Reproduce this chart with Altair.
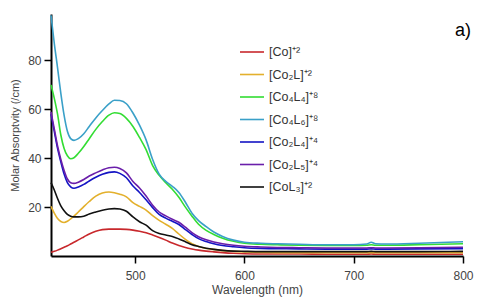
import altair as alt
import pandas as pd

FONT = "Liberation Sans"

series_names = ["[Co]⁺²", "[Co₂L]⁺²", "[Co₄L₄]⁺⁸", "[Co₄L₆]⁺⁸", "[Co₂L₄]⁺⁴", "[Co₂L₅]⁺⁴", "[CoL₃]⁺²"]
series_colors = ["#c8282c", "#e3b02c", "#33dd33", "#3aa0c8", "#1414c4", "#6a1eaa", "#111111"]

wavelength = [423, 426, 429, 432, 435, 438, 441, 444, 448, 453, 458, 464, 470, 476, 481,
              486, 492, 498, 504, 510, 516, 522, 528, 534, 540, 546, 552, 558, 565, 572,
              580, 590, 600, 615, 630, 650, 675, 700, 712, 716, 720, 730, 760, 800]

co = [1.5, 1.9, 2.4, 3.0, 3.6, 4.2, 4.9, 5.6, 6.6, 7.8, 9.0, 10.1, 10.8, 11.0, 11.0,
      11.0, 10.9, 10.6, 10.1, 9.5, 8.6, 7.6, 6.5, 5.3, 4.3, 3.5, 2.9, 2.4, 2.0, 1.7,
      1.4, 1.1, 0.9, 0.8, 0.8, 0.8, 0.7, 0.7, 0.7, 0.8, 0.7, 0.7, 0.7, 0.7]

co2l = [20.3, 17.5, 15.3, 14.1, 13.7, 14.2, 15.2, 16.3, 18.0, 20.2, 22.3, 24.5, 25.8, 26.2, 25.9,
        25.3, 24.2, 21.8, 20.3, 18.8, 16.5, 14.6, 13.0, 11.3, 9.0, 6.8, 5.0, 3.9, 3.1, 2.7,
        2.2, 1.9, 1.7, 1.5, 1.4, 1.3, 1.3, 1.3, 1.3, 1.4, 1.3, 1.3, 1.3, 1.3]

co4l4 = [70.0, 64.5, 58.0, 49.5, 44.0, 41.0, 39.8, 40.2, 42.0, 44.8, 48.0, 51.8, 55.0, 57.6, 58.6,
         58.3, 56.3, 53.0, 48.5, 43.5, 37.0, 33.0, 30.0, 27.3, 24.0, 20.0, 16.3, 13.0, 10.5, 8.8,
         7.3, 6.0, 5.2, 4.8, 4.6, 4.4, 4.3, 4.3, 4.4, 4.6, 4.4, 4.4, 4.6, 5.0]

co4l6 = [98.5, 87.0, 77.0, 66.5, 57.5, 51.0, 48.0, 47.3, 48.0, 50.0, 53.0, 56.5, 59.5, 62.2, 63.7,
         63.6, 62.3, 58.5, 53.5, 47.5, 39.5, 33.5, 30.5, 28.5, 26.0, 22.0, 17.5, 14.5, 12.0, 9.8,
         8.0, 6.5, 5.6, 5.2, 5.0, 4.8, 4.6, 4.6, 4.9, 5.6, 5.0, 4.9, 5.2, 5.8]

co2l4 = [58.0, 51.0, 44.0, 38.5, 33.5, 30.0, 28.3, 27.7, 28.2, 29.3, 30.7, 32.2, 33.4, 34.2, 34.4,
         33.8, 32.0, 28.6, 26.0, 23.0, 19.8, 17.0, 15.5, 14.2, 12.9, 10.8, 8.8, 7.1, 5.9, 5.0,
         4.3, 3.8, 3.4, 3.1, 3.0, 2.9, 2.8, 2.8, 2.8, 2.9, 2.8, 2.8, 2.9, 3.0]

co2l5 = [59.0, 52.0, 45.0, 39.5, 35.0, 31.5, 30.0, 29.7, 30.2, 31.3, 32.7, 34.0, 35.2, 36.1, 36.3,
         35.8, 34.0, 30.5, 27.8, 24.5, 20.8, 18.0, 16.4, 15.0, 13.8, 11.8, 9.6, 7.9, 6.6, 5.7,
         5.0, 4.4, 4.0, 3.7, 3.5, 3.4, 3.3, 3.3, 3.3, 3.4, 3.3, 3.3, 3.4, 3.6]

col3 = [30.0, 27.0, 23.5, 20.5, 18.5, 17.0, 16.3, 16.0, 16.0, 16.3, 17.2, 18.0, 18.7, 19.2, 19.4,
        19.2, 18.3, 16.0, 14.0, 12.6, 10.4, 9.2, 8.6, 8.0, 7.0, 5.8, 4.6, 3.9, 3.2, 2.7,
        2.3, 2.0, 1.9, 1.8, 1.8, 1.8, 1.8, 1.8, 1.8, 1.9, 1.8, 1.8, 1.8, 1.9]

series_values = [co, co2l, co4l4, co4l6, co2l4, co2l5, col3]

x_ticks = [500, 600, 700, 800]
y_ticks = [20, 40, 60, 80]
panel_label = ["a)"]

rows = []
for name, vals in zip(series_names, series_values):
    for w, v in zip(wavelength, vals):
        rows.append({"series": name, "wavelength": w, "value": v})
df = pd.DataFrame(rows)

lines = alt.Chart(df).mark_line(strokeWidth=1.6, interpolate="monotone").encode(
    x=alt.X("wavelength:Q",
            scale=alt.Scale(domain=[423, 800], nice=False, zero=False),
            axis=alt.Axis(values=x_ticks, title="Wavelength (nm)", grid=False,
                          domainColor="black", domainWidth=2, tickColor="black",
                          tickWidth=1.5, tickSize=7, labelPadding=7, labelFontSize=12,
                          labelColor="#444", labelFont=FONT, titleFont=FONT,
                          labelFlush=False,
                          titleFontSize=12, titleFontWeight="normal", titleColor="#444",
                          titlePadding=3)),
    y=alt.Y("value:Q",
            scale=alt.Scale(domain=[0, 99], nice=False),
            axis=alt.Axis(values=y_ticks, title="Molar Absorptvity (/cm)", grid=False,
                          domainColor="black", domainWidth=2, tickColor="black",
                          tickWidth=1.5, tickSize=7, labelPadding=3, labelFontSize=12,
                          labelColor="#444", labelFont=FONT, titleFont=FONT,
                          labelFlush=False,
                          titleFontSize=11, titleFontWeight="normal", titleColor="#444",
                          titlePadding=7)),
    color=alt.Color("series:N",
                    scale=alt.Scale(domain=series_names, range=series_colors),
                    sort=series_names,
                    legend=alt.Legend(title=None, orient="none", legendX=188, legendY=25,
                                      symbolType="stroke", symbolSize=576,
                                      symbolStrokeWidth=1.6, labelFont=FONT,
                                      labelFontSize=12.5, labelColor="#333",
                                      labelOffset=4, rowPadding=2.5, padding=0)),
    order=alt.value(0),
)

label = alt.Chart(pd.DataFrame({"t": panel_label})).mark_text(
    font=FONT, fontSize=18, color="black", align="center", baseline="middle"
).encode(text="t:N", x=alt.value(412), y=alt.value(17))

chart = alt.layer(lines, label).properties(
    width=412, height=242,
    padding={"left": 43, "top": 6, "right": 20, "bottom": 43},
    autosize=alt.AutoSizeParams(type="none"),
).configure(background="white").configure_view(stroke=None)

chart.save("out.html", embed_options={"renderer": "svg", "actions": False})
